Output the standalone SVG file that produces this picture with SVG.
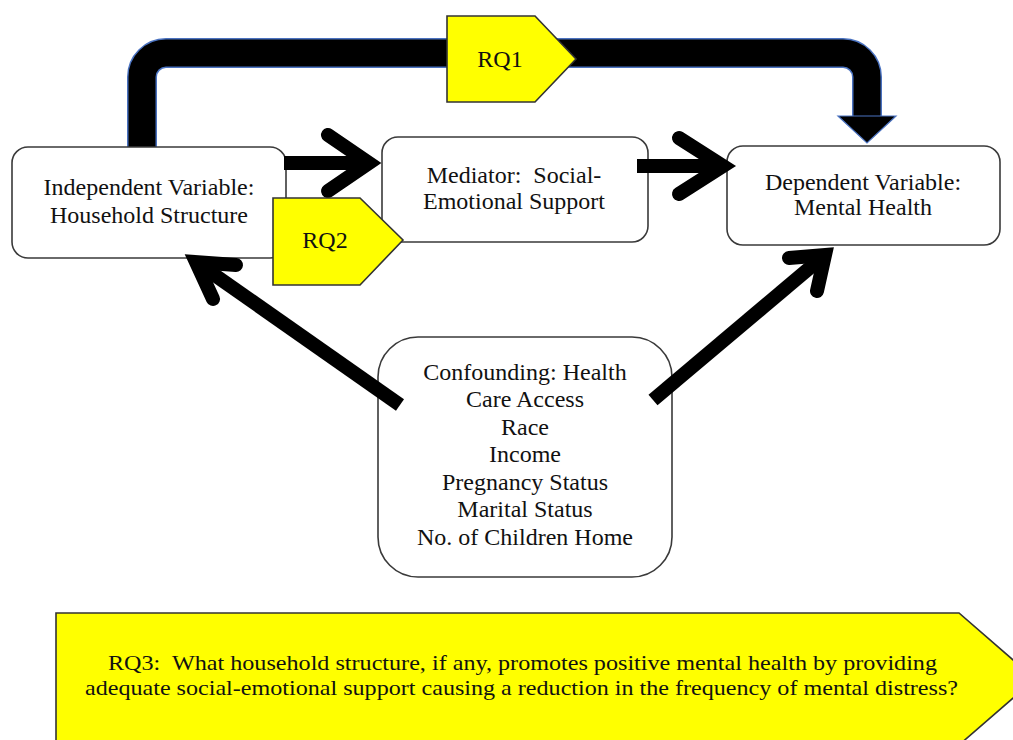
<svg xmlns="http://www.w3.org/2000/svg" width="1013" height="740" viewBox="0 0 1013 740">
<style>
.box{fill:#fff;stroke:#3a3a3a;stroke-width:1.6}
.tag{fill:#ffff00;stroke:#333;stroke-width:1.6;stroke-linejoin:miter}
.t{font-family:"Liberation Serif","Times New Roman",serif;font-size:24px;fill:#111;text-anchor:middle}
.q{font-family:"Liberation Serif","Times New Roman",serif;font-size:22px;fill:#111;text-anchor:middle}
.shaft{fill:none;stroke:#000;stroke-width:14;stroke-linecap:butt}
.head{fill:none;stroke:#000;stroke-width:14;stroke-linecap:round;stroke-linejoin:miter;stroke-miterlimit:6}
</style>
<rect width="1013" height="740" fill="#fff"/>
<g id="connectors">
  <g id="rq1-path">
    <path d="M142 148 V77 A24 24 0 0 1 166 53 H843 A24 24 0 0 1 867 77 V117" fill="none" stroke="#4a72c0" stroke-width="30"/>
    <path d="M142 149 V77 A24 24 0 0 1 166 53 H843 A24 24 0 0 1 867 77 V118" fill="none" stroke="#000" stroke-width="27"/>
    <polygon points="838,116 896,116 867,143" fill="#000" stroke="#4a72c0" stroke-width="1.2"/>
  </g>
</g>
<g id="independent">
  <rect class="box" x="12" y="147" width="274" height="111" rx="16"/>
  <text class="t" x="149" y="195">Independent Variable:</text>
  <text class="t" x="149" y="223">Household Structure</text>
</g>
<g id="mediator">
  <rect class="box" x="382" y="137" width="266" height="105" rx="16"/>
  <text class="t" x="514" y="183" xml:space="preserve">Mediator:  Social-</text>
  <text class="t" x="514" y="209">Emotional Support</text>
</g>
<g id="dependent">
  <rect class="box" x="727" y="146" width="273" height="99" rx="16"/>
  <text class="t" x="863" y="190">Dependent Variable:</text>
  <text class="t" x="863" y="215">Mental Health</text>
</g>
<g id="confounding">
  <rect class="box" x="378" y="337" width="294" height="240" rx="40"/>
  <text class="t" x="525" y="380">Confounding: Health</text>
  <text class="t" x="525" y="407">Care Access</text>
  <text class="t" x="525" y="435">Race</text>
  <text class="t" x="525" y="462">Income</text>
  <text class="t" x="525" y="490">Pregnancy Status</text>
  <text class="t" x="525" y="517">Marital Status</text>
  <text class="t" x="525" y="545">No. of Children Home</text>
</g>
<g id="arrows">
  <path class="shaft" d="M284 163 H368"/>
  <polyline class="head" points="328,135 369,163 328,191"/>
  <path class="shaft" d="M637 166 H722"/>
  <polyline class="head" points="679,138 723,166 679,194"/>
  <path class="shaft" d="M400 405 L196 262"/>
  <polyline class="head" points="236,265 196,262 213,299"/>
  <path class="shaft" d="M653 400 L825 255"/>
  <polyline class="head" points="789,258 825,255 817,291"/>
</g>
<g id="rq1">
  <polygon class="tag" points="447,16 535,16 576,59 535,102 447,102"/>
  <text class="t" x="500" y="67">RQ1</text>
</g>
<g id="rq2">
  <polygon class="tag" points="273,198 360,198 403,240 360,285 273,285"/>
  <text class="t" x="325" y="248">RQ2</text>
</g>
<g id="rq3">
  <polygon class="tag" points="56,613 959,613 1035,679 959,745 56,745"/>
  <text class="q" x="522.5" y="670" textLength="829" lengthAdjust="spacingAndGlyphs" xml:space="preserve">RQ3:  What household structure, if any, promotes positive mental health by providing</text>
  <text class="q" x="521.5" y="695" textLength="873" lengthAdjust="spacingAndGlyphs">adequate social-emotional support causing a reduction in the frequency of mental distress?</text>
</g>
</svg>
